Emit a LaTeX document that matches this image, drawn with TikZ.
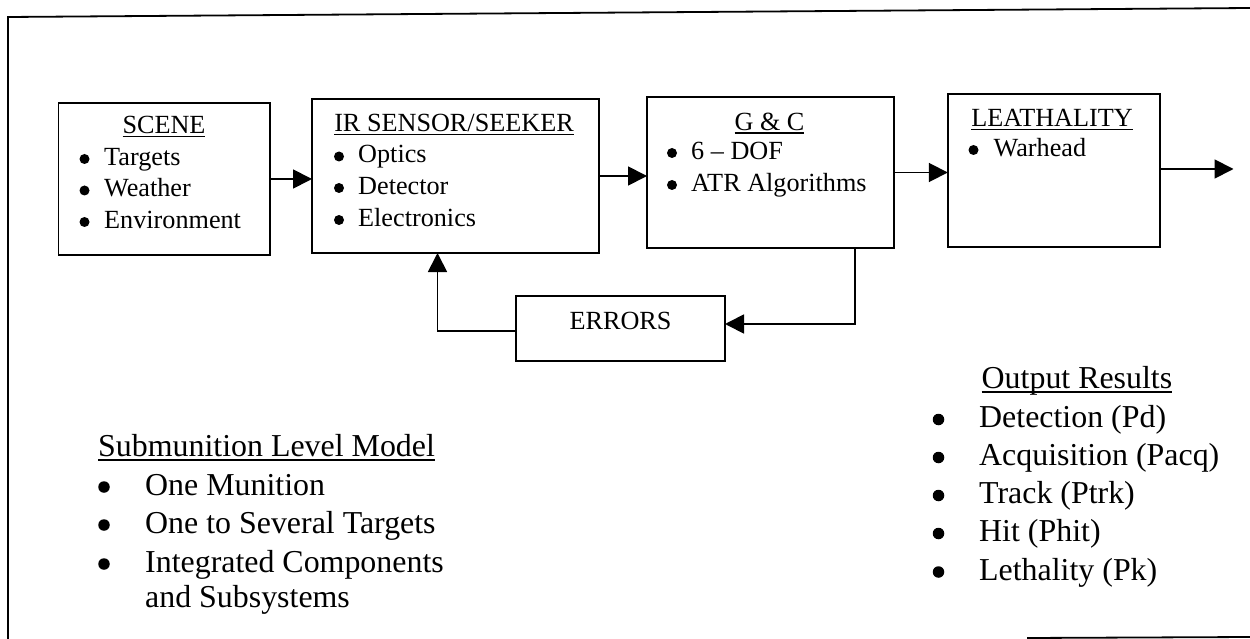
\documentclass[tikz,border=0pt]{standalone}
\usepackage{fontspec}
\setmainfont{Liberation Serif}
\usetikzlibrary{arrows.meta,calc}
\newcommand\myul[1]{{\setbox0\hbox{#1}\rlap{\rule[-0.13em]{\wd0}{1.6pt}}\box0}}
\begin{document}
\begin{tikzpicture}[x=1pt,y=-1pt,
  box/.style={draw, line width=1.8pt, rectangle, inner sep=0pt, outer sep=0pt},
  wire/.style={line width=1.8pt},
  arr/.style={wire, -{Triangle[length=19pt,width=19pt]}},
  sfont/.style={font=\fontsize{26.2}{30}\selectfont},
  bfont/.style={font=\fontsize{31.9}{36}\selectfont},
  ttl/.style={anchor=base, inner sep=0pt},
  itm/.style={anchor=base west, inner sep=0pt},
  sdot/.style={circle, fill, inner sep=0pt, minimum size=10pt},
  bdot/.style={circle, fill, inner sep=0pt, minimum size=11.5pt}]
\useasboundingbox (0,0) rectangle (1250,639);
% outer frame (as visible)
\draw[wire] (8,639) -- (8,17) -- (1250,8);
\draw[wire] (1027,638) -- (1250,637);

% boxes
\node[box, minimum width=211.4pt, minimum height=152pt] (scene) at (164.1,179) {};
\node[box, minimum width=287pt, minimum height=154pt] (ir) at (455.5,176) {};
\node[box, minimum width=246.6pt, minimum height=151pt] (gc) at (770.3,172.5) {};
\node[box, minimum width=212.2pt, minimum height=153pt] (lea) at (1053.9,170.5) {};
\node[box, minimum width=209pt, minimum height=65pt] (err) at (620.5,328.5) {};

% scene text
\node[ttl, sfont] (sceneT) at (164,134) {\myul{SCENE}};
\node[sdot] (sd1) at (84.5,159) {}; \node[itm, sfont] (s1) at (104,165.5) {Targets};
\node[sdot] (sd2) at (84.5,190.5) {}; \node[itm, sfont] (s2) at (104,197) {Weather};
\node[sdot] (sd3) at (84.5,222) {}; \node[itm, sfont] (s3) at (104,228.5) {Environment};

% IR text
\node[ttl, sfont] (irT) at (454,132) {\myul{IR SENSOR/SEEKER}};
\node[sdot] (id1) at (339,156.5) {}; \node[itm, sfont] (i1) at (358,163) {Optics};
\node[sdot] (id2) at (339,188) {}; \node[itm, sfont] (i2) at (358,194.5) {Detector};
\node[sdot] (id3) at (339,220) {}; \node[itm, sfont] (i3) at (358,226.5) {Electronics};

% G&C text
\node[ttl, sfont] (gcT) at (769.5,130.5) {\myul{G \& C}};
\node[sdot] (gd1) at (672,153) {}; \node[itm, sfont] (g1) at (691,159.5) {6 – DOF};
\node[sdot] (gd2) at (672,185) {}; \node[itm, sfont] (g2) at (691,191.5) {ATR Algorithms};

% Leathality text
\node[ttl, sfont] (leaT) at (1052,127) {\myul{LEATHALITY}};
\node[sdot] (ld1) at (973.5,150) {}; \node[itm, sfont] (l1) at (993.5,156.5) {Warhead};

% errors text
\node[ttl, sfont] (errT) at (620.5,329.5) {ERRORS};

% connectors
\coordinate (out) at (1233.5,169);
\coordinate (fx) at (855,324);
\coordinate (fy) at (437.5,331);
\draw[arr] (scene.east) -- (scene.east -| ir.west);
\draw[arr] (ir.east) -- (ir.east -| gc.west);
\draw[arr] (gc.east) -- (gc.east -| lea.west);
\draw[arr] (lea.east |- out) -- (out);
\draw[arr] (gc.south -| fx) -- (fx) -- (fx -| err.east);
\draw[arr] (err.west |- fy) -- (fy) -- (fy |- ir.south);

% Submunition list
\node[itm, bfont] (subT) at (98,456.5) {\myul{Submunition Level Model}};
\node[bdot] (bd1) at (104,487) {}; \node[itm, bfont] (b1) at (145,495) {One Munition};
\node[bdot] (bd2) at (104,525) {}; \node[itm, bfont] (b2) at (145,533) {One to Several Targets};
\node[bdot] (bd3) at (104,564) {}; \node[itm, bfont] (b3) at (145,572) {Integrated Components};
\node[itm, bfont] (b4) at (145,607) {and Subsystems};

% Output list
\node[itm, bfont] (outT) at (981.5,388.5) {\myul{Output Results}};
\node[bdot] (od1) at (938.5,419.5) {}; \node[itm, bfont] (o1) at (979,427) {Detection (Pd)};
\node[bdot] (od2) at (938.5,457.5) {}; \node[itm, bfont] (o2) at (979,465) {Acquisition (Pacq)};
\node[bdot] (od3) at (938.5,495.5) {}; \node[itm, bfont] (o3) at (979,503) {Track (Ptrk)};
\node[bdot] (od4) at (938.5,533.5) {}; \node[itm, bfont] (o4) at (979,541.5) {Hit (Phit)};
\node[bdot] (od5) at (938.5,572) {}; \node[itm, bfont] (o5) at (979,580) {Lethality (Pk)};
\end{tikzpicture}
\end{document}
